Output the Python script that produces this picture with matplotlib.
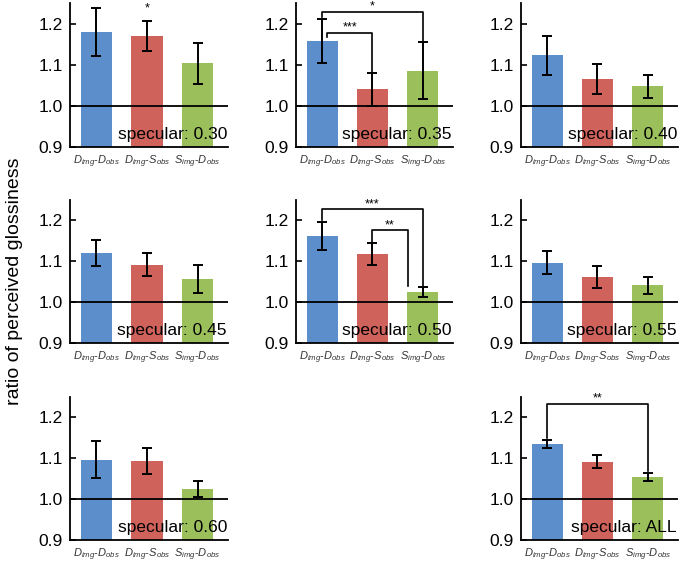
import numpy as np
import matplotlib.pyplot as plt

plt.rcParams["font.family"] = ["Liberation Sans", "DejaVu Sans"]
plt.rcParams["mathtext.fontset"] = "custom"
plt.rcParams["mathtext.rm"] = "Liberation Sans"
plt.rcParams["mathtext.it"] = "Liberation Sans:italic"

# data per panel: mean ratio and error half-widths for the 3 conditions
conds = [r"$D_{img}$-$D_{obs}$", r"$D_{img}$-$S_{obs}$", r"$S_{img}$-$D_{obs}$"]
panel_names = ["0.30", "0.35", "0.40", "0.45", "0.50", "0.55", "0.60", "ALL"]

means = {
    "0.30": [1.180, 1.170, 1.103],
    "0.35": [1.157, 1.040, 1.085],
    "0.40": [1.123, 1.065, 1.048],
    "0.45": [1.120, 1.092, 1.057],
    "0.50": [1.162, 1.117, 1.025],
    "0.55": [1.097, 1.062, 1.041],
    "0.60": [1.097, 1.094, 1.025],
    "ALL": [1.135, 1.092, 1.055],
}
errs = {
    "0.30": [0.059, 0.036, 0.049],
    "0.35": [0.053, 0.041, 0.069],
    "0.40": [0.048, 0.036, 0.028],
    "0.45": [0.032, 0.028, 0.035],
    "0.50": [0.035, 0.027, 0.012],
    "0.55": [0.029, 0.027, 0.020],
    "0.60": [0.045, 0.032, 0.019],
    "ALL": [0.010, 0.016, 0.010],
}

# significance brackets: (x_left, x_right, y_top, y_left_end, y_right_end, label)
brackets = {
    "0.35": [(0.1, 1.0, 1.178, 1.168, 1.083, "***"),
             (0.0, 2.0, 1.228, 1.215, 1.156, "*")],
    "0.50": [(0.0, 2.0, 1.227, 1.200, 1.040, "***"),
             (1.0, 1.7, 1.176, 1.147, 1.040, "**")],
    "ALL": [(0.0, 2.0, 1.234, 1.150, 1.068, "**")],
}
single_stars = {"0.30": (1, 1.222, "*")}

colors = ["#5b8ecb", "#d0625c", "#9bbf5a"]

W, H = 684, 562
cols_px = [(70, 228), (296, 453), (521, 678)]
rows_px = [(3, 147), (200, 343), (397, 540)]
slots = [(0, 0), (0, 1), (0, 2), (1, 0), (1, 1), (1, 2), (2, 0), (2, 2)]

fig = plt.figure(figsize=(W / 100, H / 100), dpi=100)

for name, (r, c) in zip(panel_names, slots):
    x0, x1 = cols_px[c]
    y0, y1 = rows_px[r]
    ax = fig.add_axes([x0 / W, 1 - y1 / H, (x1 - x0) / W, (y1 - y0) / H])
    x = np.arange(3)
    ax.bar(x, np.array(means[name]) - 0.9, bottom=0.9, width=0.62,
           color=colors, zorder=1)
    ax.errorbar(x, means[name], yerr=errs[name], fmt="none", ecolor="black",
                elinewidth=1.4, capsize=3.5, capthick=1.4, zorder=3)
    ax.axhline(1.0, color="black", lw=1.3, zorder=2)
    ax.set_xlim(-0.52, 2.6)
    ax.set_ylim(0.9, 1.25)
    ax.set_yticks([0.9, 1.0, 1.1, 1.2])
    ax.set_yticklabels(["0.9", "1.0", "1.1", "1.2"], fontsize=12.5)
    ax.set_xticks(x)
    ax.set_xticklabels(conds, fontsize=8, color="#333333")
    ax.tick_params(axis="y", direction="in", length=4, width=1.2, pad=5)
    ax.tick_params(axis="x", length=0, pad=5)
    for s in ["top", "right"]:
        ax.spines[s].set_visible(False)
    for s in ["left", "bottom"]:
        ax.spines[s].set_linewidth(1.3)
    ax.text(2.58, 0.913, "specular: " + name, ha="right", va="bottom",
            fontsize=12.5, zorder=4)

    for xl, xr, yt, yl, yr, lab in brackets.get(name, []):
        ax.plot([xl, xl, xr, xr], [yl, yt, yt, yr], color="black", lw=1.2,
                zorder=4, clip_on=False)
        ax.text((xl + xr) / 2, yt - 0.002, lab, ha="center", va="bottom",
                fontsize=9, zorder=4)
    if name in single_stars:
        xs, ys, lab = single_stars[name]
        ax.text(xs, ys, lab, ha="center", va="bottom", fontsize=9)

fig.text(15 / W, 0.5, "ratio of perceived glossiness", rotation=90,
         ha="center", va="center", fontsize=14)

fig.savefig("out.png", dpi=100)
